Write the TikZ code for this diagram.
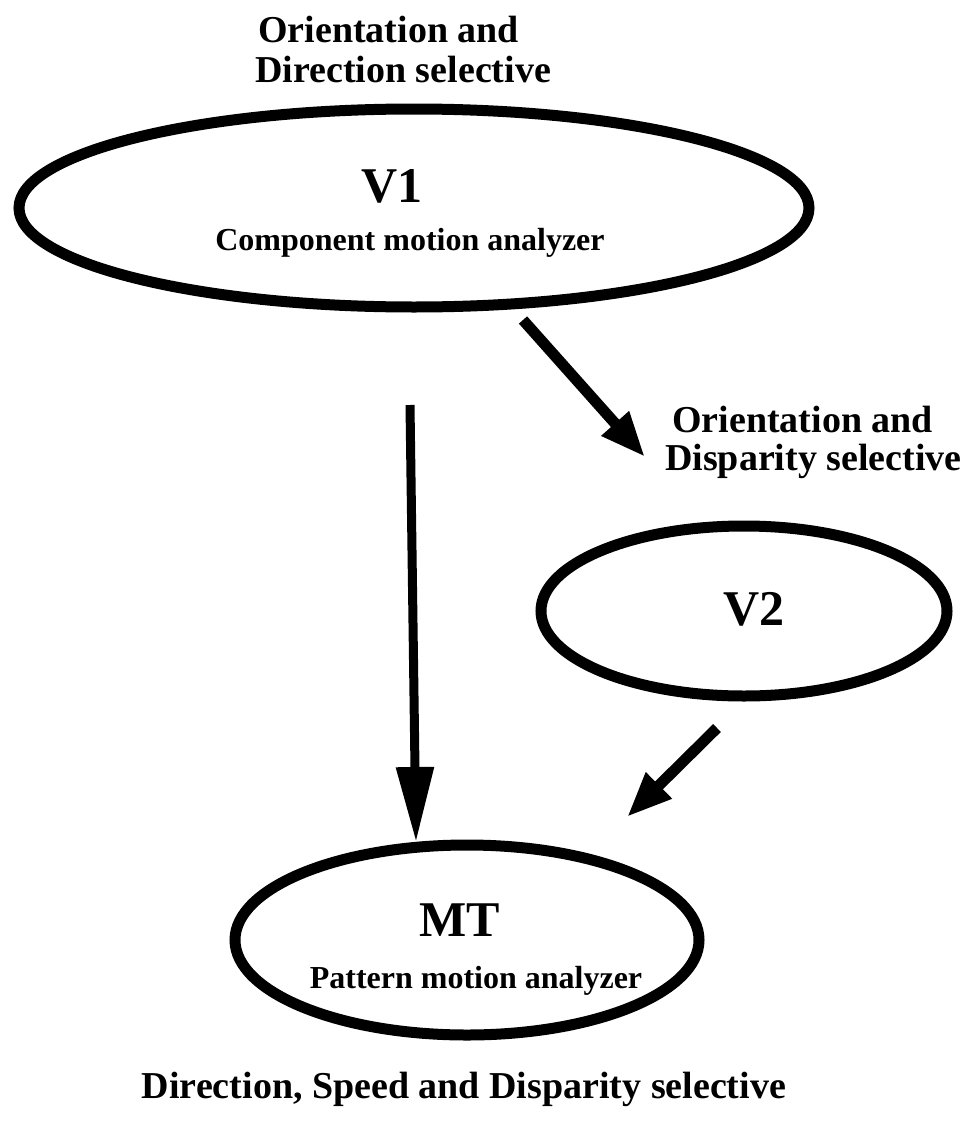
\documentclass[tikz,border=0pt]{standalone}
\usepackage{fontspec}
\setmainfont{Liberation Serif}
\usetikzlibrary{arrows.meta,shapes.geometric}
\begin{document}
\begin{tikzpicture}[x=1pt,y=-1pt,
  area/.style={draw,ellipse,line width=11pt,inner sep=0pt},
  lbl/.style={inner sep=0pt,font=\fontsize{38}{40}\selectfont\bfseries},
  big/.style={inner sep=0pt,font=\fontsize{50}{52}\selectfont\bfseries},
  sub/.style={inner sep=0pt,font=\fontsize{32}{34}\selectfont\bfseries},
  arr/.style={line width=11pt,-{Triangle[length=45pt,width=34pt]}},
  varr/.style={line width=9pt,-{Triangle[length=75pt,width=36pt]}}]
\useasboundingbox (0,0) rectangle (964,1127);
% areas
\node[area,minimum width=790pt,minimum height=198pt] (v1) at (414,208) {};
\node[area,minimum width=406pt,minimum height=170pt] (v2) at (744,611) {};
\node[area,minimum width=464pt,minimum height=190pt] (mt) at (467,940) {};
% texts
\node[lbl,anchor=base west] (t1a) at (258,42) {Orientation and};
\node[lbl,anchor=base west] (t1b) at (255,82) {Direction selective};
\node[big,anchor=base] (v1t) at (392,202) {V1};
\node[sub,anchor=base] (v1s) at (410,250) {Component motion analyzer};
\node[lbl,anchor=base west] (t2a) at (672,432) {Orientation and};
\node[lbl,anchor=base west] (t2b) at (665,470) {Disparity selective};
\node[big,anchor=base] (v2t) at (754,625) {V2};
\node[big,anchor=base] (mtt) at (460,936) {MT};
\node[sub,anchor=base] (mts) at (476,988) {Pattern motion analyzer};
\node[lbl,anchor=base] (t3) at (464,1098) {Direction, Speed and Disparity selective};
% arrow ends
\coordinate (a1s) at (410,405); \coordinate (a1e) at (416,842);
\coordinate (a2s) at (523,320); \coordinate (a2e) at (645,457);
\coordinate (a3s) at (717,728); \coordinate (a3e) at (627,817);
\draw[varr] (a1s) -- (a1e);
\draw[arr] (a2s) -- (a2e);
\draw[arr] (a3s) -- (a3e);
\end{tikzpicture}
\end{document}
